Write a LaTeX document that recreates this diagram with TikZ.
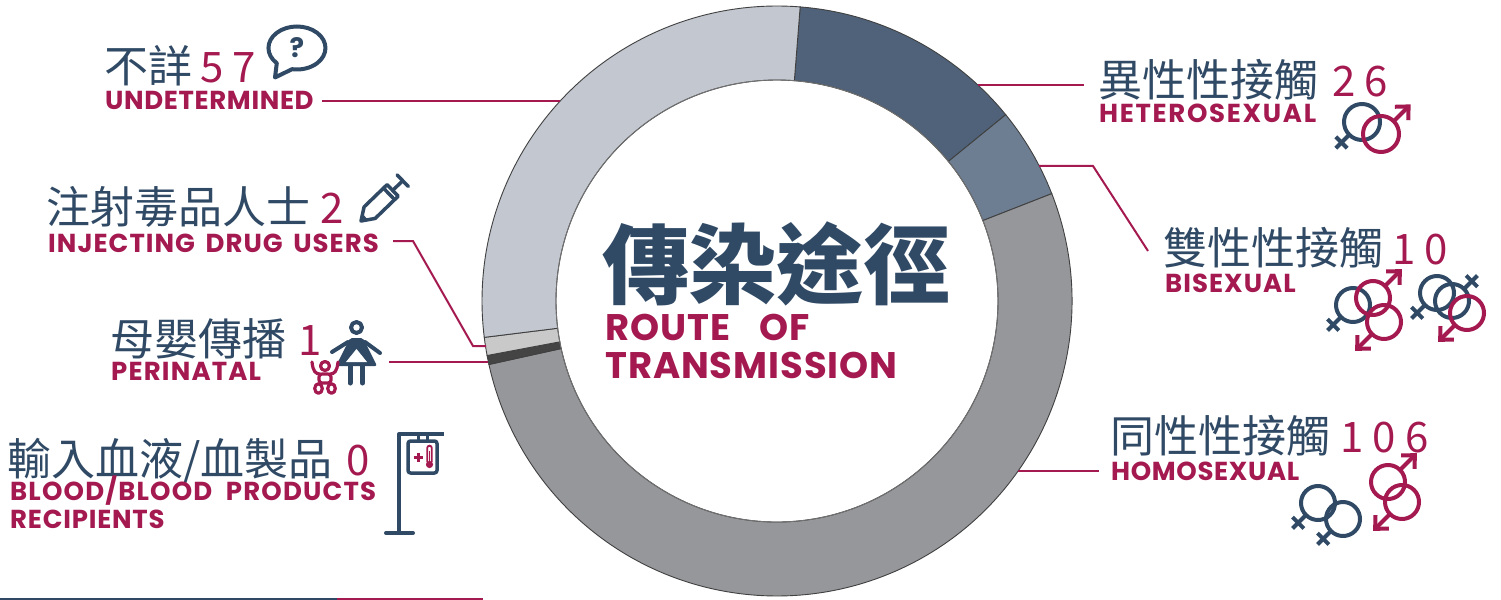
\documentclass[tikz,border=0pt]{standalone}
\usepackage{fontspec}
\newfontfamily\cjk{Noto Sans CJK TC}
\newfontfamily\enf{Poppins}
\newfontfamily\enft{Poppins}[LetterSpace=2.5]
\newfontfamily\enq{Poppins}
\definecolor{navy}{HTML}{304A66}
\definecolor{crim}{HTML}{A4194F}
\definecolor{segU}{HTML}{C2C7D0}
\definecolor{segH}{HTML}{4F627A}
\definecolor{segB}{HTML}{6E7E92}
\definecolor{segM}{HTML}{96979B}
\definecolor{segP}{HTML}{444444}
\definecolor{segI}{HTML}{C9C9C9}
\newcommand\ls[2]{{\addfontfeature{LetterSpace=#1}#2}}
\newcommand\ringseg[3]{\filldraw[ringline, fill=#3] (#1:295) arc[start angle=#1, end angle=#2, radius=295] -- (#2:221) arc[start angle=#2, end angle=#1, radius=221] -- cycle;}
% female symbol: centre x, centre y, visual direction, colour, radius
\newcommand\femsym[5]{\begin{scope}[shift={(#1,#2)}, rotate=#3]
\draw[icon, draw=#4] (0,0) circle[radius=#5];
\draw[icon, draw=#4, line cap=butt] (#5,0) -- ({#5+19},0);
\draw[icon, draw=#4, line cap=butt] ({#5+11},-8) -- ({#5+11},8);
\end{scope}}
\newcommand\malesym[5]{\begin{scope}[shift={(#1,#2)}, rotate=#3]
\draw[icon, draw=#4] (0,0) circle[radius=#5];
\draw[icon, draw=#4, line cap=butt] (#5,0) -- ({#5+21},0);
\draw[icon, draw=#4, line cap=butt, line join=miter] ({#5+11},-9.5) -- ({#5+21},0) -- ({#5+11},9.5);
\end{scope}}
\begin{document}
\begin{tikzpicture}[x=1bp, y=-1bp,
  ringline/.style={draw=black!75, line width=0.9bp},
  zh/.style={inner sep=0pt, anchor=base west, text=navy, font=\cjk\fontsize{44bp}{48bp}\selectfont},
  num/.style={inner sep=0pt, anchor=base west, text=crim, font=\cjk\fontsize{42bp}{46bp}\selectfont},
  en/.style={inner sep=0pt, anchor=base west, text=crim, font=\enf\bfseries\fontsize{26bp}{30bp}\selectfont},
  ent/.style={inner sep=0pt, anchor=base west, text=crim, font=\enft\bfseries\fontsize{37bp}{40bp}\selectfont},
  lead/.style={draw=crim, line width=2bp},
  icon/.style={line width=4bp, line cap=round, line join=round}]
\useasboundingbox (0,0) rectangle (1501,600);
\fill[white] (0,0) rectangle (1501,600);

% ---------- donut ----------
\begin{scope}[shift={(777,301)}]
\ringseg{-85.5}{-39.163}{segH}
\ringseg{-39.163}{-21.341}{segB}
\ringseg{-21.341}{167.570}{segM}
\ringseg{167.570}{169.352}{segP}
\ringseg{169.352}{172.916}{segI}
\ringseg{172.916}{274.5}{segU}
\draw[draw=black!55, line width=0.8bp] (0,0) circle[radius=221];
\end{scope}

% ---------- centre title ----------
\node[anchor=base west, inner sep=0pt, text=navy, font=\cjk\bfseries\fontsize{87bp}{90bp}\selectfont] (title) at (602,297) {傳染途徑};
\node[ent] (route) at (605,340) {ROUTE\hspace{29bp}OF};
\node[ent] (trans) at (605,378) {TRANSMISSION};

% ---------- left labels ----------
\node[zh] (uzh) at (104,83) {不詳};
\node[num] (unum) at (200,83) {5 7};
\node[en] (uen) at (105,110) {\ls{2.5}{UNDETERMINED}};

\node[zh] (izh) at (46,224) {注射毒品人士};
\node[num] (inum) at (320,224) {2};
\node[en] (ien) at (48,252) {\ls{4}{INJECTING\hspace{4bp} DRUG\hspace{4bp} USERS}};

\node[zh] (pzh) at (110,355) {母嬰傳播};
\node[num] (pnum) at (298,355) {1};
\node[en] (pen) at (111,380) {\ls{4.5}{PERINATAL}};

\node[zh] (bzh) at (7,475) {輸入血液/血製品};
\node[num] (bnum) at (346,475) {0};
\node[en] (ben) at (10,500) {\ls{4.5}{BLOOD/BLOOD\hspace{7bp} PRODUCTS}};
\node[en] (ben2) at (10,528) {\ls{3}{RECIPIENTS}};

% ---------- right labels ----------
\node[zh] (hzh) at (1098,97) {異性性接觸};
\node[num] (hnum) at (1332,97) {2 6};
\node[en] (hen) at (1099,123) {\ls{6.5}{HETEROSEXUAL}};

\node[zh] (bizh) at (1163,264) {雙性性接觸};
\node[num] (binum) at (1392,264) {1 0};
\node[en] (bien) at (1165,292) {\ls{4}{BISEXUAL}};

\node[zh] (mzh) at (1110,452) {同性性接觸};
\node[num] (mnum) at (1340,452) {1 0 6};
\node[en] (men) at (1111,480) {\ls{2.5}{HOMOSEXUAL}};

% ---------- leader lines ----------
\coordinate (uA) at (322,101); \coordinate (uB) at (560,101);
\draw[lead] (uA) -- (uB);
\coordinate (iA) at (393,241); \coordinate (iB) at (413,241); \coordinate (iC) at (473,346); \coordinate (iD) at (486,346);
\draw[lead] (iA) -- (iB) -- (iC) -- (iD);
\coordinate (pA) at (389,362); \coordinate (pB) at (488,362);
\draw[lead] (pA) -- (pB);
\coordinate (hA) at (978,85); \coordinate (hB) at (1084,85);
\draw[lead] (hA) -- (hB);
\coordinate (bA) at (1039,166); \coordinate (bB) at (1093,166); \coordinate (bC) at (1148,251);
\draw[lead] (bA) -- (bB) -- (bC);
\coordinate (mA) at (1018,471); \coordinate (mB) at (1099,471);
\draw[lead] (mA) -- (mB);

% bottom rule
\coordinate (r0) at (0,599); \coordinate (r1) at (337,599); \coordinate (r2) at (483,599);
\draw[navy, line width=2bp] (r0) -- (r1);
\draw[crim, line width=2bp] (r1) -- (r2);

% ---------- icons ----------
% speech bubble
\draw[icon, draw=navy] (292,69.2) -- (275,77.5) -- (276.8,63.2)
  arc[start angle=135, end angle=460, x radius=28.5, y radius=21.5];
\node[inner sep=0pt, text=navy, font=\enq\bfseries\fontsize{27bp}{28bp}\selectfont] (qm) at (297,48) {?};

% syringe
\begin{scope}[shift={(361,221)}, rotate=44]
\draw[icon, draw=navy, line width=3.5bp] (0,0) -- (12,-8) -- (44,-8) -- (44,8) -- (12,8) -- cycle;
\fill[navy] (0,0) -- (6,-4) -- (6,4) -- cycle;
\draw[icon, draw=navy, line width=3.5bp] (39,-8) -- (39,8);
\draw[icon, draw=navy, line width=3.5bp] (44,0) -- (58,0);
\draw[icon, draw=navy, line width=3.5bp] (58,-8) -- (58,8);
\end{scope}

% mother
\draw[icon, draw=navy] (356.5,327.5) circle[radius=5.5];
\fill[navy, rounded corners=2bp] (350,338) -- (363,338) -- (377,366) -- (336,366) -- cycle;
\fill[white] (356.5,349) -- (367,362) -- (346,362) -- cycle;
\draw[icon, draw=navy] (348,342) -- (332,352);
\draw[icon, draw=navy] (365,342) -- (380,353);
\draw[icon, draw=navy, line width=5bp] (350,366) -- (350,383);
\draw[icon, draw=navy, line width=5bp] (362.5,366) -- (362.5,383);
% child
\draw[icon, draw=crim, line width=3.2bp] (325,366) circle[radius=4.5];
\draw[icon, draw=crim, line width=3.2bp] (312,362) .. controls (313,372) and (316,374) .. (320,374);
\draw[icon, draw=crim, line width=3.2bp] (338,362) .. controls (337,372) and (334,374) .. (330,374);
\draw[icon, draw=crim, line width=3.2bp, rounded corners=3bp] (319,374) rectangle (331,383);
\draw[icon, draw=crim, line width=3.2bp] (318.5,388.5) ellipse[x radius=3.8, y radius=4.8];
\draw[icon, draw=crim, line width=3.2bp] (331.5,388.5) ellipse[x radius=3.8, y radius=4.8];

% IV stand
\draw[icon, draw=navy, line cap=butt] (399,533) -- (399,434) -- (444,434);
\draw[icon, draw=navy] (386,533) -- (413,533);
\draw[icon, draw=navy, line width=3bp, line cap=butt] (418,434) -- (418,441);
\draw[icon, draw=navy, line width=3bp, line cap=butt] (427,434) -- (427,441);
\draw[icon, draw=navy, line width=3.5bp, rounded corners=2.5bp] (408,441) rectangle (437,473);
\draw[crim, line width=3bp] (413.5,457) -- (422.5,457);
\draw[crim, line width=3bp] (418,452.5) -- (418,461.5);
\draw[crim, line width=1.8bp] (427.2,462) -- (427.2,448) arc[start angle=180, end angle=360, radius=2.3] -- (431.8,462);
\fill[crim] (429.5,464.5) circle[radius=3.6];
\draw[crim, line width=1.6bp] (429.5,451) -- (429.5,464);

% heterosexual
\femsym{1362}{122}{225}{navy}{18}
\malesym{1381}{134}{45}{crim}{18}
% bisexual group 1
\femsym{1353}{305}{225}{navy}{17}
\malesym{1373}{298}{45}{crim}{17}
\malesym{1384}{322}{225}{crim}{17}
% bisexual group 2
\femsym{1437}{293}{225}{navy}{17}
\femsym{1452}{301}{45}{navy}{17}
\malesym{1467}{313}{225}{crim}{17}
% homosexual
\femsym{1318}{503}{225}{navy}{17}
\femsym{1343}{519}{225}{navy}{17}
\malesym{1388}{482}{45}{crim}{17}
\malesym{1402}{502}{225}{crim}{17}
\end{tikzpicture}
\end{document}
